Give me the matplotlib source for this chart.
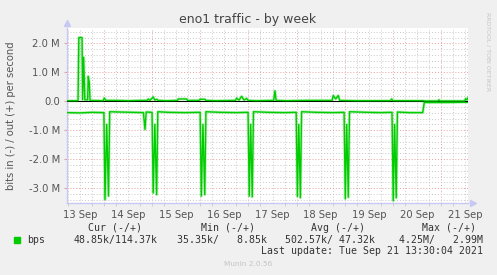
import numpy as np
import matplotlib
matplotlib.use("Agg")
import matplotlib.pyplot as plt
from matplotlib.patches import Rectangle

# hours since 13 Sep 00:00, traffic in Mbit/s
out_hours = [5.5, 11.0, 11.4, 13.0, 13.3, 13.8, 14.4, 15.8, 16.1, 16.6, 17.0,
             23.5, 24.1, 25.0, 30.0, 36.0, 42.0, 45.5, 46.0, 46.8, 48.5, 49.3,
             50.2, 51.0, 55.0, 60.6, 61.0, 65.2, 65.6, 71.4, 71.8, 74.3, 74.7,
             80.0, 89.5, 90.1, 91.3, 92.6, 93.8, 95.1, 95.8, 100.0, 108.6,
             109.2, 109.8, 115.0, 125.0, 137.7, 138.3, 139.5, 140.8, 141.5,
             150.0, 166.8, 167.4, 168.0, 175.0, 183.3, 183.6, 190.6, 191.0,
             191.4, 203.8, 204.3, 205.0, 205.5]
out_mbps = [0.02, 0.02, 2.20, 2.20, 0.05, 1.52, 0.05, 0.05, 0.86, 0.66, 0.03,
            0.02, 0.11, 0.03, 0.03, 0.02, 0.03, 0.03, 0.08, 0.03, 0.15, 0.04,
            0.07, 0.03, 0.02, 0.03, 0.08, 0.08, 0.03, 0.03, 0.07, 0.07, 0.03,
            0.02, 0.03, 0.11, 0.04, 0.17, 0.04, 0.10, 0.03, 0.02, 0.03,
            0.36, 0.03, 0.02, 0.03, 0.03, 0.20, 0.08, 0.20, 0.03,
            0.02, 0.02, 0.08, 0.02, 0.02, 0.02, 0.01, 0.01, 0.05,
            0.01, 0.01, 0.09, 0.05, 0.12]

in_hours = [5.5, 12.0, 18.0, 23.9, 24.45, 25.3, 26.2, 26.8, 32.0, 38.0, 43.6,
            44.4, 45.0, 47.9, 48.5, 49.3, 50.2, 50.8, 56.0, 64.0, 71.9, 72.5,
            73.3, 74.2, 74.8, 82.0, 90.0, 95.8, 96.4, 97.1, 97.9, 98.5, 106.0,
            114.0, 119.8, 120.4, 121.1, 121.9, 122.5, 130.0, 138.0, 143.7,
            144.3, 145.0, 145.8, 146.4, 155.0, 162.0, 167.6, 168.2, 168.9,
            169.7, 170.3, 176.0, 182.9, 183.7, 195.0, 205.5]
in_mbps = [-0.39, -0.40, -0.38, -0.39, -3.39, -0.80, -3.27, -0.36, -0.37, -0.38,
           -0.39, -0.97, -0.37, -0.38, -3.16, -0.80, -3.22, -0.36, -0.38, -0.39,
           -0.38, -3.27, -0.80, -3.22, -0.36, -0.38, -0.39, -0.38, -3.27, -0.80,
           -3.30, -0.36, -0.38, -0.39, -0.38, -3.28, -0.80, -3.33, -0.36, -0.38,
           -0.39, -0.38, -3.36, -0.80, -3.31, -0.36, -0.38, -0.39, -0.38, -3.43,
           -0.80, -3.33, -0.37, -0.39, -0.39, -0.04, -0.04, -0.03]

day_labels = ["13 Sep", "14 Sep", "15 Sep", "16 Sep", "17 Sep",
              "18 Sep", "19 Sep", "20 Sep", "21 Sep"]
ytick_vals = [-3, -2, -1, 0, 1, 2]
ytick_labels = ["-3.0 M", "-2.0 M", "-1.0 M", "0.0", "1.0 M", "2.0 M"]

legend_heads = ["Cur (-/+)", "Min (-/+)", "Avg (-/+)", "Max (-/+)"]
legend_vals = ["48.85k/114.37k", "35.35k/   8.85k", "502.57k/ 47.32k", "4.25M/   2.99M"]

green = "#00CC00"
W, H = 497, 275

fig = plt.figure(figsize=(W / 100, H / 100), dpi=100, facecolor="#F0F0F0")
ax = fig.add_axes([67 / W, 1 - 203 / H, 401 / W, 175 / H])
ax.set_facecolor("white")
ax.set_xlim(5.5, 205.5)
ax.set_ylim(-3.51, 2.53)

# grid
for h in np.arange(6, 206, 6):
    if h % 24 == 0:
        ax.axvline(h, color="#E8A0A0", lw=0.7, ls=(0, (1, 2)), zorder=1)
    else:
        ax.axvline(h, color="#C8C8C8", lw=0.7, ls=(0, (1, 2)), zorder=1)
for v in np.arange(-3.4, 2.6, 0.2):
    v = round(v, 1)
    if abs(v - round(v)) < 1e-6:
        if round(v) != 0:
            ax.axhline(v, color="#E8A0A0", lw=0.7, ls=(0, (1, 2)), zorder=1)
    else:
        ax.axhline(v, color="#C8C8C8", lw=0.7, ls=(0, (1, 2)), zorder=1)

# lines (light halo + crisp line)
ax.plot(in_hours, in_mbps, color=green, lw=2.2, alpha=0.25, zorder=2)
ax.plot(out_hours, out_mbps, color=green, lw=2.2, alpha=0.25, zorder=2)
ax.plot(in_hours, in_mbps, color=green, lw=1.0, zorder=3)
ax.axhline(0, color="black", lw=0.75, zorder=4)
ax.plot(out_hours, out_mbps, color=green, lw=1.0, zorder=5)

# axes
for s in ["top", "right"]:
    ax.spines[s].set_visible(False)
for s in ["left", "bottom"]:
    ax.spines[s].set_color("#C8C8F4")
    ax.spines[s].set_linewidth(1.0)
ax.plot([0], [1.03], marker="^", color="#C8C8F4", markersize=5,
        transform=ax.transAxes, clip_on=False)
ax.plot([1.012], [0], marker=">", color="#C8C8F4", markersize=5,
        transform=ax.transAxes, clip_on=False)

ax.set_xticks([12 + 24 * i for i in range(len(day_labels))])
ax.set_xticklabels(day_labels)
ax.set_xticks(np.arange(6, 206, 6), minor=True)
ax.set_yticks(ytick_vals)
ax.set_yticklabels(ytick_labels)
ax.tick_params(axis="x", which="major", length=0, pad=5, labelsize=7.2, labelcolor="#555555")
ax.tick_params(axis="x", which="minor", length=2, color="#C8C8C8")
ax.tick_params(axis="y", length=2, pad=3, color="#E8A0A0", labelsize=7.2, labelcolor="#555555")

fig.text(248 / W, 1 - 19.5 / H, "eno1 traffic - by week", ha="center", va="center",
         fontsize=9, color="#444444")
fig.text(11 / W, 1 - 116 / H, "bits in (-) / out (+) per second", rotation=90,
         ha="center", va="center", fontsize=7.2, color="#555555")
fig.text(488 / W, 1 - 52 / H, "RRDTOOL / TOBI OETIKER", rotation=270,
         ha="center", va="center", fontsize=4.4, color="#C4C4C4")

mono = "DejaVu Sans Mono"
head_right = [142, 255, 365, 476]
val_right = [157.3, 266.7, 375, 482.7]
for lab, xr in zip(legend_heads, head_right):
    fig.text(xr / W, 1 - 228 / H, lab, ha="right", va="center", family=mono,
             fontsize=7.1, color="#333333")
fig.patches.append(Rectangle((14 / W, 1 - 242.5 / H), 5.7 / W, 5.7 / H,
                             transform=fig.transFigure, color=green))
fig.text(26.7 / W, 1 - 240 / H, "bps", ha="left", va="center", family=mono,
         fontsize=7.1, color="#333333")
for lab, xr in zip(legend_vals, val_right):
    fig.text(xr / W, 1 - 240 / H, lab, ha="right", va="center", family=mono,
             fontsize=7.1, color="#333333")
fig.text(482.7 / W, 1 - 251.5 / H, "Last update: Tue Sep 21 13:30:04 2021",
         ha="right", va="center", family=mono, fontsize=7.1, color="#333333")
fig.text(248 / W, 1 - 264.5 / H, "Munin 2.0.56", ha="center", va="center",
         fontsize=5.3, color="#C4C4C4")

fig.savefig("out.png", dpi=100, facecolor=fig.get_facecolor())
